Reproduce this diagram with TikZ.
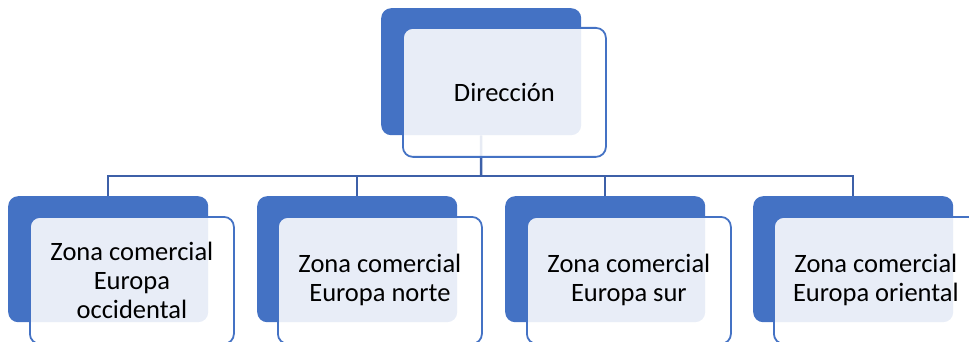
\documentclass[tikz,border=0pt]{standalone}
\usepackage{fontspec}
\setmainfont{Carlito}
\definecolor{bblue}{HTML}{4472C4}
\definecolor{cblue}{HTML}{3D60A8}
\begin{document}
\begin{tikzpicture}[x=1pt,y=-1pt,
  back/.style={fill=bblue, rounded corners=10pt, draw=none, inner sep=0pt, anchor=north west, minimum width=200pt},
  front/.style={draw=bblue, line width=1.8pt, fill=white, fill opacity=0.88, text opacity=1,
    rounded corners=10pt, inner sep=0pt, anchor=north west, minimum width=204pt, minimum height=127pt,
    font=\fontsize{26.5}{29}\selectfont, align=center, text=black},
  conn/.style={draw=cblue, line width=2.5pt}]
\useasboundingbox (0,0) rectangle (969,342);
\clip (0,0) rectangle (969,342);
% back blue boxes
\node[back, minimum height=127pt] (top) at (381,8) {};
\node[back, minimum height=126pt] (b1) at (8,196) {};
\node[back, minimum height=126pt] (b2) at (257,196) {};
\node[back, minimum height=126pt] (b3) at (505,196) {};
\node[back, minimum height=126pt] (b4) at (753,196) {};
% connectors
\coordinate (bus) at (481,176);
\draw[conn] (top.south) -- (bus);
\draw[conn] (b1.north) -- (b1.north |- bus) -- (b4.north |- bus) -- (b4.north);
\draw[conn] (b2.north) -- (b2.north |- bus);
\draw[conn] (b3.north) -- (b3.north |- bus);
% front boxes
\node[front, minimum width=203pt, minimum height=129pt] (ftop) at (402,27) {Dirección};
\node[front] (f1) at (29,216) {Zona comercial\\Europa\\occidental};
\node[front] (f2) at (277,216) {Zona comercial\\Europa norte};
\node[front] (f3) at (526,216) {Zona comercial\\Europa sur};
\node[front] (f4) at (773,216) {Zona comercial\\Europa oriental};
\end{tikzpicture}
\end{document}
